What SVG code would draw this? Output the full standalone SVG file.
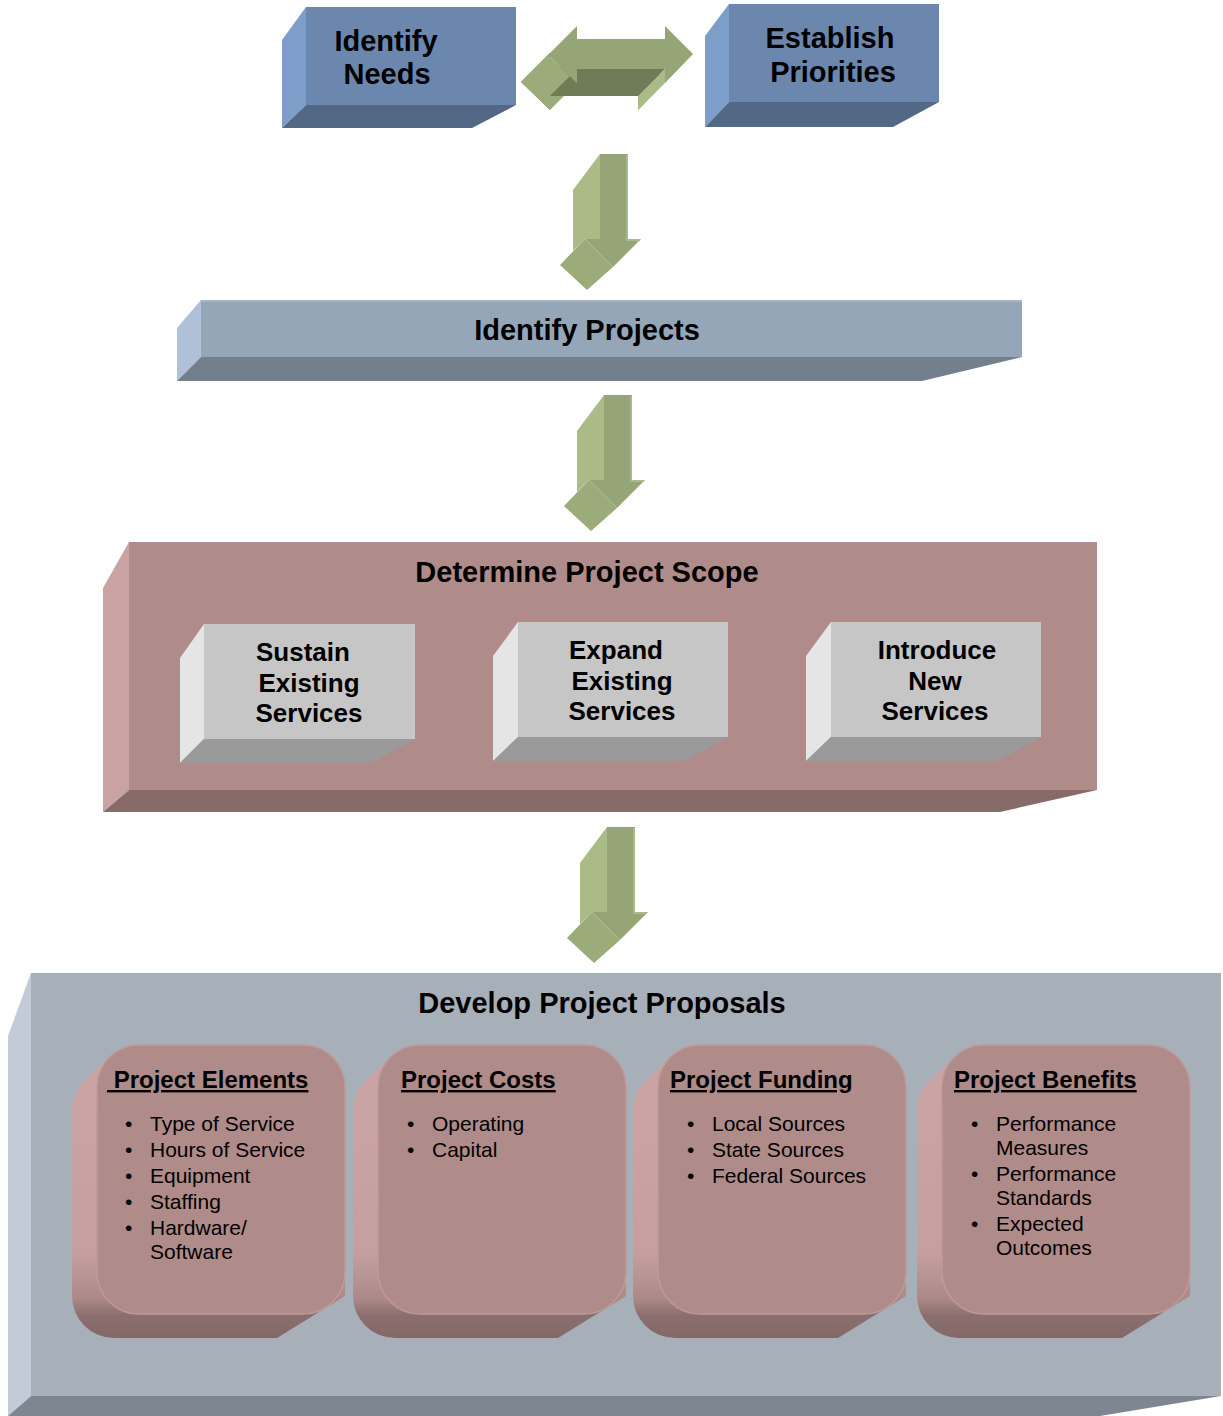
<svg xmlns="http://www.w3.org/2000/svg" xmlns:xlink="http://www.w3.org/1999/xlink" width="1223" height="1416" viewBox="0 0 1223 1416">
<style>
text{font-family:"Liberation Sans",Arial,sans-serif;fill:#000}
.h{font-weight:bold;text-anchor:middle}
.t28{font-size:29px}
.t26{font-size:26px}
.ct{font-size:24px;font-weight:bold;text-decoration:underline}
.li{font-size:21px}
.bf{fill:#6B87AD}.bl{fill:#7E9ECA}.bb{fill:#536884}
.pf{fill:#96A6B9}.pl{fill:#AFC0D8}.pb{fill:#737F8D}
.rf{fill:#AF8B89}.rl{fill:#C9A2A2}.rb{fill:#866B69}
.gf{fill:#C6C6C6}.gl{fill:#E5E5E5}.gb{fill:#9A9A9A}
.sf{fill:#A7AFB9}.sl{fill:#C2CBD7}.sb{fill:#7E8791}
.card{fill:#AF8B89;stroke:#BE9A98;stroke-width:1.5}
.ext{fill:url(#cardGrad)}
.af{fill:#95A575}.al{fill:#ABBB88}.am{fill:#9BAB79}.ad{fill:#6F7C56}
</style>
<defs>
<linearGradient id="cardGrad" x1="0" y1="0" x2="0" y2="1">
<stop offset="0" stop-color="#CBA5A5"/>
<stop offset="0.7" stop-color="#C59F9F"/>
<stop offset="0.86" stop-color="#AC8988"/>
<stop offset="0.92" stop-color="#8B6F6E"/>
<stop offset="1" stop-color="#836867"/>
</linearGradient>
<g id="downArrow">
<polygon class="al" points="600,154 600,239 585,239 573,251 573,190"/>
<polygon class="am" points="585,239 613,267 587,290 560,265"/>
<polygon class="af" points="600,154 628,154 628,239 641,239 613,267 585,239 600,239"/>
<polyline points="627,155 627,240 640,240" fill="none" stroke="#A9B98A" stroke-width="2"/>
</g>
</defs>

<g id="connectors">
<g id="arrow-needs-priorities">
<polygon class="ad" points="521,82 550,53 550,66 638,66 638,53 666,81 638,110 638,96 550,96 550,110"/>
<polygon class="am" points="548,55 577,83 550,110 521,82"/>
<polygon class="ad" points="577,69 665,69 638,96 550,96"/>
<polygon class="al" points="665,69 665,83 638,110 638,96"/>
<polygon class="af" points="548,55 577,26 577,39 665,39 665,26 693,54 665,83 665,69 577,69 577,83"/>
</g>
<use id="arrow-to-projects" xlink:href="#downArrow"/>
<use id="arrow-to-scope" xlink:href="#downArrow" transform="translate(4,241)"/>
<use id="arrow-to-proposals" xlink:href="#downArrow" transform="translate(7,673)"/>
</g>

<g id="identify-needs">
<polygon class="bl" points="282,40 306,7 306,105 282,128"/>
<polygon class="bb" points="306,105 516,105 472,128 282,128"/>
<rect class="bf" x="306" y="7" width="210" height="98"/>
<text class="h t28" x="386" y="51">Identify</text>
<text class="h t28" x="387" y="84">Needs</text>
</g>

<g id="establish-priorities">
<polygon class="bl" points="705,36 729,4 729,102 705,127"/>
<polygon class="bb" points="729,102 939,102 893,127 705,127"/>
<rect class="bf" x="729" y="4" width="210" height="98"/>
<text class="h t28" x="830" y="48">Establish</text>
<text class="h t28" x="833" y="82">Priorities</text>
</g>

<g id="identify-projects">
<polygon class="pl" points="177,328 201,300 201,357 177,381"/>
<polygon class="pb" points="201,357 1022,357 922,381 177,381"/>
<rect class="pf" x="201" y="300" width="821" height="57"/>
<line x1="201" y1="301" x2="1022" y2="301" stroke="#A6B3C3" stroke-width="2"/>
<text class="h t28" x="587" y="340">Identify Projects</text>
</g>

<g id="determine-scope">
<polygon class="rl" points="103,588 129,542 129,790 103,812"/>
<polygon class="rb" points="129,790 1097,790 1000,812 103,812"/>
<rect class="rf" x="129" y="542" width="968" height="248"/>
<text class="h t28" x="587" y="582">Determine Project Scope</text>
</g>

<g id="sustain-existing">
<polygon class="gl" points="180,658 204,624 204,739 180,763"/>
<polygon class="gb" points="204,739 415,739 372,763 180,763"/>
<rect class="gf" x="204" y="624" width="211" height="115"/>
<text class="h t26" x="303" y="661">Sustain</text>
<text class="h t26" x="309" y="692">Existing</text>
<text class="h t26" x="309" y="722">Services</text>
</g>

<g id="expand-existing">
<polygon class="gl" points="493,656 518,622 518,737 493,761"/>
<polygon class="gb" points="518,737 728,737 685,761 493,761"/>
<rect class="gf" x="518" y="622" width="210" height="115"/>
<text class="h t26" x="616" y="659">Expand</text>
<text class="h t26" x="622" y="690">Existing</text>
<text class="h t26" x="622" y="720">Services</text>
</g>

<g id="introduce-new">
<polygon class="gl" points="806,656 831,622 831,737 806,761"/>
<polygon class="gb" points="831,737 1041,737 998,761 806,761"/>
<rect class="gf" x="831" y="622" width="210" height="115"/>
<text class="h t26" x="937" y="659">Introduce</text>
<text class="h t26" x="935" y="690">New</text>
<text class="h t26" x="935" y="720">Services</text>
</g>

<g id="develop-proposals">
<polygon class="sl" points="8,1036 31,973 31,1396 8,1416"/>
<polygon class="sb" points="31,1396 1221,1396 1100,1416 8,1416"/>
<rect class="sf" x="31" y="973" width="1190" height="423"/>
<text class="h t28" x="602" y="1013">Develop Project Proposals</text>
</g>

<g id="project-elements">
<path class="ext" d="M109,1057 L84,1081 A42,42 0 0 0 72,1111 L72,1296 A42,42 0 0 0 114,1338 L277,1338 L345,1296 L345,1087 Z"/>
<rect class="card" x="97" y="1045" width="248" height="269" rx="42" ry="42"/>
<text class="ct" x="107" y="1088">&#160;Project Elements</text>
<text class="li" x="125" y="1131">•</text><text class="li" x="150" y="1131">Type of Service</text>
<text class="li" x="125" y="1157">•</text><text class="li" x="150" y="1157">Hours of Service</text>
<text class="li" x="125" y="1183">•</text><text class="li" x="150" y="1183">Equipment</text>
<text class="li" x="125" y="1209">•</text><text class="li" x="150" y="1209">Staffing</text>
<text class="li" x="125" y="1235">•</text><text class="li" x="150" y="1235">Hardware/</text>
<text class="li" x="150" y="1259">Software</text>
</g>

<g id="project-costs">
<path class="ext" d="M390,1057 L365,1081 A42,42 0 0 0 353,1111 L353,1296 A42,42 0 0 0 395,1338 L558,1338 L626,1296 L626,1087 Z"/>
<rect class="card" x="378" y="1045" width="248" height="269" rx="42" ry="42"/>
<text class="ct" x="401" y="1088">Project Costs</text>
<text class="li" x="407" y="1131">•</text><text class="li" x="432" y="1131">Operating</text>
<text class="li" x="407" y="1157">•</text><text class="li" x="432" y="1157">Capital</text>
</g>

<g id="project-funding">
<path class="ext" d="M670,1057 L645,1081 A42,42 0 0 0 633,1111 L633,1296 A42,42 0 0 0 675,1338 L838,1338 L906,1296 L906,1087 Z"/>
<rect class="card" x="658" y="1045" width="248" height="269" rx="42" ry="42"/>
<text class="ct" x="670" y="1088">Project Funding</text>
<text class="li" x="687" y="1131">•</text><text class="li" x="712" y="1131">Local Sources</text>
<text class="li" x="687" y="1157">•</text><text class="li" x="712" y="1157">State Sources</text>
<text class="li" x="687" y="1183">•</text><text class="li" x="712" y="1183">Federal Sources</text>
</g>

<g id="project-benefits">
<path class="ext" d="M954,1057 L929,1081 A42,42 0 0 0 917,1111 L917,1296 A42,42 0 0 0 959,1338 L1122,1338 L1190,1296 L1190,1087 Z"/>
<rect class="card" x="942" y="1045" width="248" height="269" rx="42" ry="42"/>
<text class="ct" x="954" y="1088">Project Benefits</text>
<text class="li" x="971" y="1131">•</text><text class="li" x="996" y="1131">Performance</text>
<text class="li" x="996" y="1155">Measures</text>
<text class="li" x="971" y="1181">•</text><text class="li" x="996" y="1181">Performance</text>
<text class="li" x="996" y="1205">Standards</text>
<text class="li" x="971" y="1231">•</text><text class="li" x="996" y="1231">Expected</text>
<text class="li" x="996" y="1255">Outcomes</text>
</g>
</svg>
